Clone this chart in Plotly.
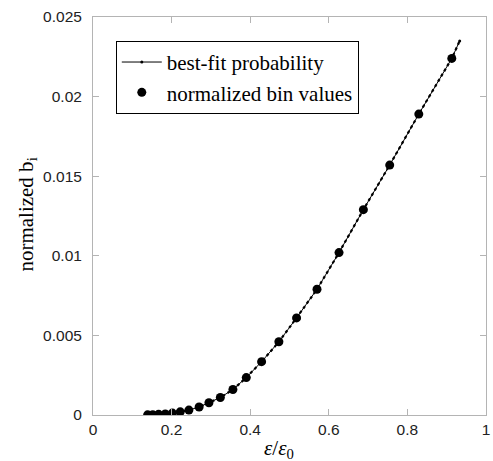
import plotly.graph_objects as go

# bin centres (eps/eps0) and normalized bin values
x_bins = [0.139, 0.152, 0.167, 0.184, 0.202, 0.222, 0.244, 0.270, 0.295, 0.324,
          0.356, 0.390, 0.429, 0.473, 0.518, 0.570, 0.626, 0.688, 0.755, 0.829, 0.913]
y_bins = [0.00001, 0.00002, 0.00004, 0.00007, 0.00012, 0.00020, 0.00031, 0.00050,
          0.00077, 0.00110, 0.00160, 0.00235, 0.00335, 0.00460, 0.00610, 0.00790,
          0.01020, 0.01290, 0.01570, 0.01890, 0.02240]

# best-fit probability curve samples
x_fit = [0.139, 0.152, 0.167, 0.184, 0.202, 0.222, 0.244, 0.270, 0.295, 0.324,
         0.356, 0.390, 0.429, 0.473, 0.518, 0.570, 0.626, 0.688, 0.755, 0.829, 0.913, 0.933]
y_fit = [0.00001, 0.00002, 0.00004, 0.00007, 0.00012, 0.00020, 0.00031, 0.00050,
         0.00077, 0.00110, 0.00160, 0.00235, 0.00335, 0.00460, 0.00610, 0.00790,
         0.01020, 0.01290, 0.01570, 0.01890, 0.02240, 0.02350]

x_ticks = [0, 0.2, 0.4, 0.6, 0.8, 1]
x_tick_labels = ["0", "0.2", "0.4", "0.6", "0.8", "1"]
y_ticks = [0, 0.005, 0.01, 0.015, 0.02, 0.025]
y_tick_labels = ["0", "0.005", "0.01", "0.015", "0.02", "0.025"]

SERIF = "Liberation Serif, Times New Roman, serif"

fig = go.Figure()
fig.add_trace(go.Scatter(
    x=x_fit, y=y_fit, mode="lines+markers", name="best-fit probability",
    line=dict(color="black", width=1),
    marker=dict(color="black", size=3),
))
fig.add_trace(go.Scatter(
    x=x_fit, y=y_fit, mode="lines", showlegend=False, hoverinfo="skip",
    line=dict(color="black", width=2.2, dash="dot"),
))
fig.add_trace(go.Scatter(
    x=x_bins, y=y_bins, mode="markers", name="normalized bin values",
    marker=dict(color="black", size=9),
))

axis_common = dict(
    showline=True, linecolor="#b4b4b4", linewidth=1, mirror="ticks",
    ticks="inside", ticklen=6, tickcolor="#b4b4b4", tickwidth=1,
    showgrid=False, zeroline=False, ticklabeloverflow="allow",
    tickfont=dict(family="Liberation Sans, Arial, sans-serif", size=15.5, color="#222"),
)

fig.update_layout(
    width=493, height=461,
    margin=dict(l=93, r=3, t=17, b=46),
    paper_bgcolor="white", plot_bgcolor="white",
    showlegend=True,
    legend=dict(
        x=0.058, y=0.94, xanchor="left", yanchor="top",
        bordercolor="black", borderwidth=1, bgcolor="white",
        font=dict(family=SERIF, size=21, color="black"),
        tracegroupgap=0, itemwidth=40,
    ),
    xaxis=dict(range=[0, 1], tickvals=x_ticks, ticktext=x_tick_labels,
               ticklabelstandoff=0, **axis_common),
    yaxis=dict(range=[0, 0.025], tickvals=y_ticks, ticktext=y_tick_labels,
               ticklabelstandoff=7, **axis_common),
)

fig.add_annotation(
    text="<i>ε</i>/<i>ε</i><sub>0</sub>", xref="paper", yref="paper",
    x=0.4736, y=-0.086, xanchor="center", yanchor="middle", showarrow=False,
    font=dict(family=SERIF, size=21, color="black"),
)
fig.add_annotation(
    text="normalized b<sub>i</sub>", xref="paper", yref="paper",
    x=-0.169, y=0.5025, xanchor="center", yanchor="middle", textangle=-90, showarrow=False,
    font=dict(family=SERIF, size=21, color="black"),
)

fig.write_html("out.html", config={"displayModeBar": False},
               post_script="document.body.style.margin='0';")
